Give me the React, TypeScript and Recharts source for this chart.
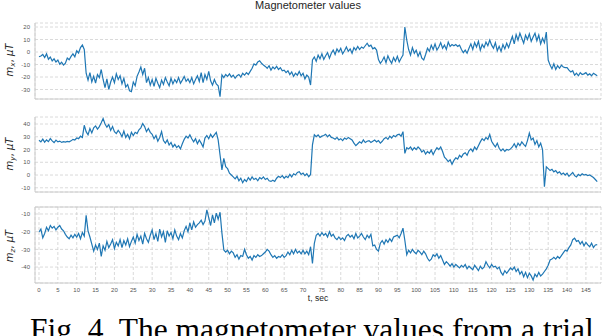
import React from "react";
import { LineChart, Line, XAxis, YAxis, CartesianGrid, ReferenceLine } from "recharts";

// samples every 0.5 s, t = 0 .. 148
const STEP = 0.5;

const xTicks = [0, 5, 10, 15, 20, 25, 30, 35, 40, 45, 50, 55, 60, 65, 70, 75, 80, 85, 90, 95, 100, 105, 110, 115, 120, 125, 130, 135, 140, 145];
const mxTicks = [-30, -20, -10, 0, 10, 20];
const myTicks = [-10, 0, 10, 20, 30, 40];
const mzTicks = [-40, -30, -20, -10];

const mx = [
  -3.8, -3.2, -2.0, -4.5, -1.5, -5.8, -4.0, -7.2, -5.5, -8.0,
  -6.5, -9.8, -8.2, -10.5, -9.0, -4.8, -6.2, -3.5, -1.5, -3.8,
  1.0, -0.8, 3.5, 5.6, 2.0, -17.0, -22.5, -16.5, -24.0, -19.5,
  -24.8, -18.0, -20.5, -14.0, -22.0, -28.5, -21.5, -30.0, -24.0, -20.0,
  -24.5, -17.5, -22.0, -19.0, -25.5, -21.0, -28.0, -26.0, -31.0, -31.7,
  -24.0, -27.0, -19.5, -16.0, -12.0, -18.0, -13.0, -24.5, -20.5, -26.5,
  -22.0, -27.5, -21.0, -25.0, -28.5, -22.5, -26.0, -20.5, -24.0, -27.0,
  -21.0, -25.5, -22.0, -24.5, -20.5, -25.0, -22.5, -19.5, -23.5, -21.5,
  -24.5, -20.5, -25.5, -22.0, -19.0, -23.5, -16.5, -24.5, -18.0, -22.0,
  -15.5, -23.0, -26.5, -22.0, -25.5, -27.0, -35.7, -18.4, -20.5, -18.0,
  -19.5, -17.5, -20.0, -18.5, -21.0, -19.0, -18.0, -20.0, -17.0, -18.5,
  -16.5, -18.0, -15.5, -13.0, -9.5, -10.5, -8.0, -7.0, -9.0, -10.5,
  -11.5, -13.0, -11.0, -14.5, -12.0, -13.5, -11.5, -14.0, -12.5, -15.0,
  -14.5, -16.5, -15.0, -18.0, -16.0, -19.5, -17.0, -18.5, -15.5, -19.0,
  -17.0, -21.5, -18.5, -20.0, -26.4, -6.4, -4.0, -7.5, -2.5, -5.5,
  -1.5, -6.0, -3.0, -0.5, -5.0, -1.0, 1.5, -2.0, 2.5, 0.0,
  3.0, -1.5, 1.0, 4.0, 0.5, 2.5, -1.0, 3.5, 1.5, 4.5,
  2.0, 4.0, 3.0, 5.0, 7.0, 4.5, 5.5, 2.5, 3.5, 1.5,
  -6.0, -9.0, -7.0, -4.0, -8.5, -3.0, -6.5, -9.0, -4.5, -7.5,
  -3.5, -8.0, -5.0, -2.5, 20.0, 9.6, 2.0, -2.5, 3.5, -1.0,
  1.5, -3.5, 0.0, -5.0, -6.4, -2.0, 3.0, 0.5, 5.5, 2.0,
  6.5, 1.5, 4.0, 7.5, 3.0, 5.5, 2.0, 8.0, 4.5, 6.0,
  5.0, 6.0, 4.5, 5.5, 2.0, -0.5, 1.5, -1.0, 3.0, 6.5,
  2.0, 7.5, 4.0, 8.5, 1.5, 6.0, 3.5, 8.0, 5.0, 9.6,
  5.5, 3.0, 7.5, 1.0, 4.5, 0.5, 6.0, 2.5, 7.0, 3.5,
  8.0, 12.5, 6.5, 14.0, 9.5, 15.0, 11.0, 7.0, 13.5, 10.0,
  14.5, 8.5, 12.0, 15.0, 9.0, 13.5, 6.5, 11.0, 7.5, 16.0,
  -6.4, -10.5, -13.5, -9.5, -14.0, -11.0, -13.0, -10.5, -12.0, -12.5,
  -12.5, -14.5, -16.0, -15.0, -18.5, -17.0, -19.0, -16.5, -18.0, -17.5,
  -16.5, -18.5, -17.5, -19.0, -17.0, -18.0, -19.0,
];

const my = [
  27.3, 26.0, 28.2, 25.8, 27.5, 26.2, 28.6, 26.8, 25.5, 27.4,
  26.0, 26.6, 25.6, 26.2, 25.8, 26.4, 26.0, 26.8, 28.0, 27.5,
  29.0, 28.5, 30.5, 29.5, 39.0, 34.0, 31.5, 36.5, 33.0, 37.0,
  38.5, 36.0, 38.0, 41.0, 44.3, 40.0, 37.5, 39.5, 35.0, 38.0,
  34.0, 32.5, 35.0, 33.0, 30.0, 34.5, 29.5, 32.0, 28.5, 33.5,
  31.0, 33.5, 32.5, 35.5, 37.0, 40.4, 38.0, 34.0, 36.5, 33.5,
  32.0, 28.5, 31.0, 26.5, 29.5, 34.0, 27.0, 25.0, 27.5, 23.5,
  25.5, 22.0, 24.0, 21.5, 23.0, 20.5, 24.5, 28.0, 30.5, 29.0,
  31.5, 28.5, 26.0, 28.5, 24.5, 27.5, 25.0, 22.0, 29.0, 31.0,
  28.5, 32.0, 29.5, 31.5, 33.5, 27.5, 15.7, 4.0, 13.0, 6.5,
  5.0, 1.5, 0.0, -1.5, -3.0, -1.0, -4.5, -2.5, -6.0, -3.5,
  -5.0, -2.0, -4.0, -1.5, -3.5, -2.5, -4.5, -2.0, -3.0, -1.5,
  -3.5, -2.5, -4.5, -5.0, -4.0, -5.0, -2.5, -1.0, -2.0, -0.5,
  -2.5, -1.0, -2.0, 0.5, -1.5, 1.0, 0.0, 2.0, 2.6, 0.5,
  1.5, -0.5, 1.0, -1.3, 0.5, 23.6, 31.5, 30.0, 31.5, 29.5,
  30.5, 31.0, 32.0, 30.0, 31.5, 29.5, 29.0, 28.0, 29.5, 27.5,
  28.5, 27.0, 29.0, 28.0, 29.5, 28.5, 27.5, 25.0, 23.0, 24.5,
  26.0, 25.0, 27.5, 25.5, 26.5, 27.0, 25.5, 26.5, 27.5, 26.0,
  27.0, 25.0, 26.5, 28.5, 29.5, 28.0, 30.5, 29.0, 31.0, 30.0,
  31.5, 32.0, 30.5, 34.0, 17.0, 21.5, 20.5, 22.0, 19.5, 21.5,
  20.0, 22.0, 20.5, 18.0, 19.5, 16.5, 18.5, 17.0, 19.5, 16.0,
  19.0, 21.5, 20.0, 22.0, 18.5, 14.0, 12.5, 10.5, 12.0, 8.4,
  11.5, 13.5, 12.5, 15.5, 14.0, 16.5, 17.5, 15.5, 19.0, 20.5,
  18.5, 22.0, 20.0, 23.0, 26.0, 28.5, 27.0, 29.5, 28.0, 31.8,
  26.5, 24.0, 22.0, 25.0, 21.0, 19.0, 20.5, 18.5, 20.0, 19.5,
  20.5, 22.0, 24.5, 21.5, 25.0, 23.0, 26.0, 24.0, 22.5, 27.0,
  32.8, 27.5, 29.0, 24.0, 27.0, 22.0, 25.0, 20.0, -9.2, 6.5,
  5.0, 3.5, 4.5, 2.5, 3.5, 1.5, 2.5, 0.5, 1.5, 0.0,
  1.5, -1.0, 0.5, 2.0, -0.5, -1.5, 0.5, -0.5, 1.0, 0.0,
  0.5, -0.5, 0.0, -1.0, -2.0, -3.5, -5.2,
];

const mz = [
  -20.2, -18.5, -23.5, -21.0, -17.5, -19.5, -16.5, -18.0, -17.0, -19.0,
  -17.5, -16.5, -18.5, -19.5, -21.5, -23.0, -24.0, -22.0, -23.5, -21.5,
  -23.0, -21.0, -24.0, -20.5, -22.5, -10.8, -19.5, -23.0, -27.0, -31.0,
  -27.5, -30.0, -26.5, -34.0, -28.0, -30.5, -25.5, -29.0, -27.0, -24.5,
  -29.5, -26.0, -28.0, -24.5, -29.0, -25.0, -27.5, -24.0, -28.5, -25.5,
  -23.0, -26.5, -21.5, -25.0, -22.5, -27.0, -21.0, -24.0, -26.0, -22.0,
  -19.0, -24.5, -21.0, -25.5, -18.5, -23.0, -20.0, -26.0, -19.5, -22.5,
  -20.5, -24.0, -19.0, -22.5, -24.5, -21.0, -23.5, -19.5, -17.0, -20.0,
  -15.0, -19.0, -14.5, -17.5, -16.0, -15.0, -13.5, -16.0, -14.0, -7.7,
  -12.0, -16.5, -10.5, -15.0, -9.5, -13.0, -9.0, -20.8, -30.3, -31.5,
  -30.5, -32.5, -31.0, -32.0, -34.5, -33.0, -35.5, -33.5, -34.0, -30.0,
  -33.0, -35.0, -34.0, -36.0, -33.5, -34.5, -33.0, -34.0, -33.5, -32.5,
  -31.5, -30.0, -31.0, -33.0, -34.5, -33.5, -35.0, -34.0, -34.5, -33.0,
  -34.5, -33.5, -31.5, -33.0, -30.5, -32.5, -30.0, -32.0, -31.0, -32.5,
  -30.5, -32.5, -31.0, -33.0, -28.5, -37.9, -26.6, -22.0, -21.0, -22.5,
  -20.5, -22.0, -21.0, -23.0, -20.0, -22.5, -21.5, -23.5, -24.5, -23.0,
  -24.5, -23.5, -25.0, -22.5, -21.5, -23.0, -22.0, -24.0, -21.0, -23.5,
  -22.5, -21.0, -23.0, -24.5, -22.0, -23.5, -21.5, -28.0, -27.5, -30.0,
  -31.0, -26.5, -25.0, -27.0, -24.5, -26.0, -24.0, -25.5, -23.0, -22.5,
  -22.0, -23.5, -21.0, -18.0, -25.0, -33.0, -30.5, -32.0, -30.0, -31.5,
  -32.5, -30.5, -31.5, -33.0, -31.0, -32.5, -35.0, -36.5, -35.5, -33.0,
  -34.0, -32.5, -35.0, -33.5, -36.0, -38.5, -37.0, -38.0, -39.5, -38.0,
  -40.0, -38.5, -39.5, -40.5, -39.0, -40.0, -38.5, -41.0, -39.5, -40.5,
  -41.5, -39.0, -40.5, -42.0, -39.5, -41.0, -40.0, -37.0, -39.0, -40.5,
  -38.5, -40.0, -39.5, -41.0, -40.0, -43.0, -44.5, -42.0, -43.5, -42.0,
  -40.5, -41.5, -40.0, -42.5, -41.0, -44.0, -42.5, -45.5, -43.0, -46.0,
  -43.5, -45.0, -47.3, -44.0, -45.5, -43.0, -45.0, -44.0, -42.5, -41.0,
  -39.0, -36.0, -35.5, -34.5, -35.5, -34.0, -35.0, -33.5, -32.0, -30.5,
  -31.0, -29.0, -27.5, -24.5, -23.7, -25.5, -25.0, -27.0, -25.5, -28.0,
  -26.0, -27.5, -28.5, -26.5, -29.0, -27.5, -27.3,
];

const data = mx.map((v, i) => ({ t: i * STEP, mx: v, my: my[i], mz: mz[i] }));

const W = 602;
const H = 336;
const TICK_FONT = { fontSize: 6, fill: "#555", fontFamily: "Liberation Sans, Arial, sans-serif" };
const SPINE = "#cccccc";

function Panel({
  dataKey,
  ticks,
  domain,
  top,
  bottom,
  showX,
  topBorder,
}: {
  dataKey: string;
  ticks: number[];
  domain: [number, number];
  top: number;
  bottom: number;
  showX?: boolean;
  topBorder?: boolean;
}) {
  const xh = showX ? 16 : 1;
  return (
    <div style={{ position: "absolute", left: 0, top: 0 }}>
      <LineChart
        width={W}
        height={H}
        data={data}
        margin={{ top, right: 1, bottom: H - bottom - xh, left: 0 }}
      >
        <CartesianGrid stroke="#d0d0d0" strokeDasharray="3 2" strokeWidth={0.8} />
        <XAxis
          type="number"
          dataKey="t"
          domain={[-1.06, 149]}
          ticks={xTicks}
          interval={0}
          allowDataOverflow
          height={xh}
          tick={showX ? TICK_FONT : false}
          tickLine={false}
          tickSize={0}
          tickMargin={5}
          axisLine={{ stroke: SPINE, strokeWidth: 1 }}
        />
        <YAxis
          type="number"
          domain={domain}
          ticks={ticks}
          interval={0}
          allowDataOverflow
          width={35}
          tick={TICK_FONT}
          tickLine={false}
          tickSize={0}
          tickMargin={5}
          axisLine={{ stroke: SPINE, strokeWidth: 1 }}
        />
        {topBorder && <ReferenceLine y={domain[1]} stroke={SPINE} strokeWidth={1} />}
        <Line
          type="linear"
          dataKey={dataKey}
          stroke="#1f77b4"
          strokeWidth={1.2}
          dot={false}
          isAnimationActive={false}
        />
      </LineChart>
    </div>
  );
}

function YLabel({ cy, sub }: { cy: number; sub: string }) {
  const x = 13;
  return (
    <text
      x={x}
      y={cy}
      transform={`rotate(-90, ${x}, ${cy})`}
      textAnchor="middle"
      fontSize={10}
      fill="#262626"
      fontFamily="DejaVu Sans, sans-serif"
    >
      <tspan fontStyle="italic">m</tspan>
      <tspan fontStyle="italic" fontSize={7} dy={2}>{sub}</tspan>
      <tspan dy={-2}>, </tspan>
      <tspan fontStyle="italic">μT</tspan>
    </text>
  );
}

export default function App() {
  return (
    <div
      style={{
        position: "absolute",
        left: 0,
        top: 0,
        width: W,
        height: H,
        overflow: "hidden",
        background: "#fff",
      }}
    >
      <Panel dataKey="mx" ticks={mxTicks} domain={[-37.6, 23.2]} top={23} bottom={99} />
      <Panel dataKey="my" ticks={myTicks} domain={[-13.3, 45.5]} top={117} bottom={192} />
      <Panel dataKey="mz" ticks={mzTicks} domain={[-49, -6.05]} top={207} bottom={283} showX topBorder />
      <svg width={W} height={H} style={{ position: "absolute", left: 0, top: 0 }}>
        <text
          x={308}
          y={9}
          textAnchor="middle"
          fontSize={11}
          fill="#262626"
          fontFamily="Liberation Sans, Arial, sans-serif"
        >
          Magnetometer values
        </text>
        <YLabel cy={60} sub="x" />
        <YLabel cy={154} sub="y" />
        <YLabel cy={246} sub="z" />
        <text
          x={318}
          y={301}
          textAnchor="middle"
          fontSize={8.5}
          fill="#262626"
          fontFamily="Liberation Sans, Arial, sans-serif"
        >
          t, sec
        </text>
        <text
          x={30}
          y={340}
          fontSize={31.5}
          fill="#000"
          fontFamily="Liberation Serif, Times New Roman, serif"
        >
          Fig. 4. The magnetometer values from a trial
        </text>
      </svg>
    </div>
  );
}
